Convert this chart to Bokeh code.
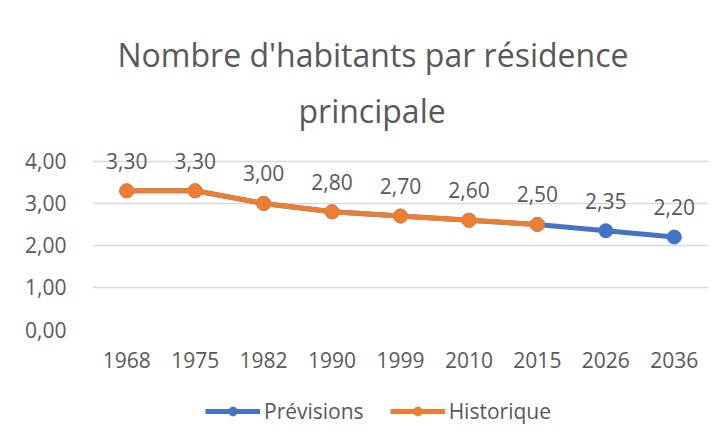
from bokeh.plotting import figure
from bokeh.layouts import column
from bokeh.models import (ColumnDataSource, LabelSet, Legend, LegendItem, FixedTicker,
                          CustomJSTickFormatter, Range1d, Title)
from bokeh.core.properties import value
from bokeh.embed import file_html
from bokeh.resources import INLINE

years = ["1968", "1975", "1982", "1990", "1999", "2010", "2015", "2026", "2036"]
previsions = [3.30, 3.30, 3.00, 2.80, 2.70, 2.60, 2.50, 2.35, 2.20]
historique_years = ["1968", "1975", "1982", "1990", "1999", "2010", "2015"]
historique = [3.30, 3.30, 3.00, 2.80, 2.70, 2.60, 2.50]
y_ticks = [0, 1, 2, 3, 4]
series_names = ["Prévisions", "Historique"]

FONT = "Open Sans"
GREY = "#595959"
BLUE = "#4472C4"
ORANGE = "#ED7D31"

src_p = ColumnDataSource(dict(x=years, y=previsions,
                              lab=[f"{v:.2f}".replace(".", ",") for v in previsions]))
src_h = ColumnDataSource(dict(x=historique_years, y=historique))

p = figure(x_range=years, y_range=Range1d(0, 4.45), width=724, height=392,
           output_backend="svg", toolbar_location=None, title=None,
           min_border_left=92, min_border_right=16, min_border_top=142, min_border_bottom=63)
p.outline_line_color = None

p.add_layout(Title(text="principale", align="left", offset=206, text_font=FONT,
                   text_font_size="32px", text_color=GREY, text_font_style="normal",
                   standoff=22), "above")
p.add_layout(Title(text="Nombre d'habitants par résidence", align="left", offset=25,
                   text_font=FONT, text_font_size="32px", text_color=GREY,
                   text_font_style="normal", standoff=0), "above")

p.line("x", "y", source=src_p, line_color=BLUE, line_width=5)
p.scatter("x", "y", source=src_p, size=14, fill_color=BLUE, line_color=BLUE)
p.line("x", "y", source=src_h, line_color=ORANGE, line_width=5)
p.scatter("x", "y", source=src_h, size=14, fill_color=ORANGE, line_color=ORANGE)

labels = LabelSet(x="x", y="y", text="lab", source=src_p, text_align="center",
                  text_baseline="middle", y_offset=30, text_font=value(FONT),
                  text_font_size=value("21px"), text_color=GREY)
p.add_layout(labels)

p.yaxis.ticker = FixedTicker(ticks=y_ticks)
p.yaxis.formatter = CustomJSTickFormatter(code="return tick.toFixed(2).replace('.', ',');")
for ax in (p.xaxis, p.yaxis):
    ax.axis_line_color = None
    ax.major_tick_line_color = None
    ax.minor_tick_line_color = None
    ax.major_label_text_font = FONT
    ax.major_label_text_font_size = "21px"
    ax.major_label_text_color = GREY
p.yaxis.major_label_standoff = 20
p.xaxis.major_label_standoff = 16
p.xgrid.grid_line_color = None
p.ygrid.ticker = FixedTicker(ticks=y_ticks)
p.ygrid.grid_line_color = "#d9d9d9"
p.ygrid.grid_line_width = 1.5

# legend strip below the chart (proxy renderers lie outside its visible range)
lg = figure(width=724, height=50, output_backend="svg", toolbar_location=None,
            x_range=Range1d(10, 11), y_range=Range1d(10, 11),
            x_axis_type=None, y_axis_type=None,
            min_border_left=0, min_border_right=0, min_border_top=0, min_border_bottom=0)
lg.outline_line_color = None
lg.grid.visible = False
items = []
for name, col, vals in zip(series_names, [BLUE, ORANGE], [previsions, historique]):
    r1 = lg.line(x=vals, y=vals, line_color=col, line_width=5)
    r2 = lg.scatter(x=vals, y=vals, size=14, fill_color=col, line_color=col)
    items.append(LegendItem(label=name, renderers=[r1, r2]))
legend = Legend(items=items, orientation="horizontal", location=(113, 17),
                glyph_width=55, glyph_height=22, label_height=22,
                label_standoff=4, spacing=26, padding=0, margin=0,
                label_text_font=FONT, label_text_font_size="21px",
                label_text_color=GREY, border_line_color=None,
                background_fill_alpha=0)
lg.add_layout(legend)

page = column(p, lg, spacing=0)
open("out.html", "w").write(file_html(page, INLINE))
